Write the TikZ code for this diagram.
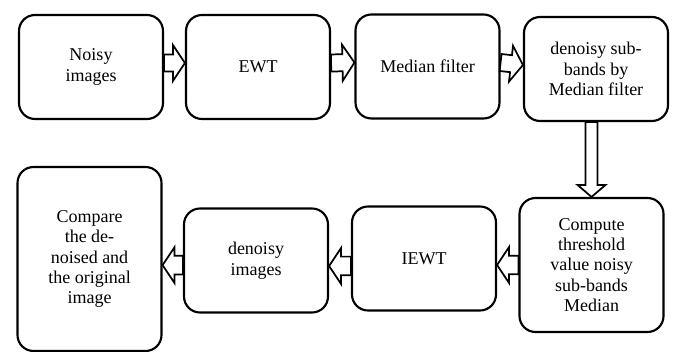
\documentclass[tikz,border=0pt]{standalone}
\usepackage{fontspec}
\setmainfont{Liberation Serif}
\usetikzlibrary{calc}

\begin{document}
\begin{tikzpicture}[
    x=0.75pt, y=-0.75pt,
    box/.style={draw, line width=1.6pt, rounded corners=12pt, minimum width=108pt, minimum height=78pt, align=center, inner sep=4pt, font=\fontsize{13.5}{15.3}\selectfont},
    hollow/.style args={#1/#2}{line width=1.3pt, to path={
      let \p1=(\tikztostart), \p2=(\tikztotarget),
          \n1={atan2(\y2-\y1,\x2-\x1)}, \n2={veclen(\x2-\x1,\y2-\y1)-9pt}
      in ($(\p1)+({\n1+90}:#1)$) -- ($(\p1)+({\n1}:{\n2})+({\n1+90}:#1)$)
      -- ($(\p1)+({\n1}:{\n2})+({\n1+90}:#2)$) -- (\p2)
      -- ($(\p1)+({\n1}:{\n2})+({\n1-90}:#2)$) -- ($(\p1)+({\n1}:{\n2})+({\n1-90}:#1)$)
      -- ($(\p1)+({\n1-90}:#1)$) -- cycle}}
  ]
    \useasboundingbox (0,0) rectangle (674,352);

    % top row
    \node[box] (noisy) at (91,67) {Noisy\\images};
    \node[box] (ewt) at (258,67) {EWT};
    \node[box] (median) at (427.5,66.5) {Median filter};
    \node[box] (subbands) at (596,69) {denoisy sub-\\bands by\\Median filter};

    % bottom row
    \node[box, minimum height=100.5pt] (thresh) at (591.5,265) {Compute\\threshold\\value noisy\\sub-bands\\Median};
    \node[box] (iewt) at (424,258.5) {IEWT};
    \node[box] (denoised) at (256,260.5) {denoisy\\images};
    \node[box, minimum height=138pt] (compare) at (89.5,259) {Compare\\the de-\\noised and\\the original\\image};

    \draw[hollow=6.4pt/13.5pt] ([yshift=3pt]noisy.east) to ([yshift=3pt]ewt.west);
    \draw[hollow=6.4pt/13.5pt] ([yshift=3pt]ewt.east) to ([yshift=3pt]median.west);
    \draw[hollow=6.4pt/13.5pt] ([yshift=3pt]median.east) to ([yshift=3pt]subbands.west);
    \draw[hollow=4.5pt/10.5pt] (subbands.south -| thresh.north) to (thresh.north);
    \draw[hollow=7pt/13.5pt] (thresh.west) to (thresh.west -| iewt.east);
    \draw[hollow=7pt/13.5pt] ($(iewt.west)+(0,-5.6pt)$) to ($(denoised.east |- iewt.west)+(0,-5.6pt)$);
    \draw[hollow=7pt/13.5pt] ($(denoised.west)+(0,-3.5pt)$) to ($(compare.east |- denoised.west)+(0,-3.5pt)$);
\end{tikzpicture}
\end{document}
